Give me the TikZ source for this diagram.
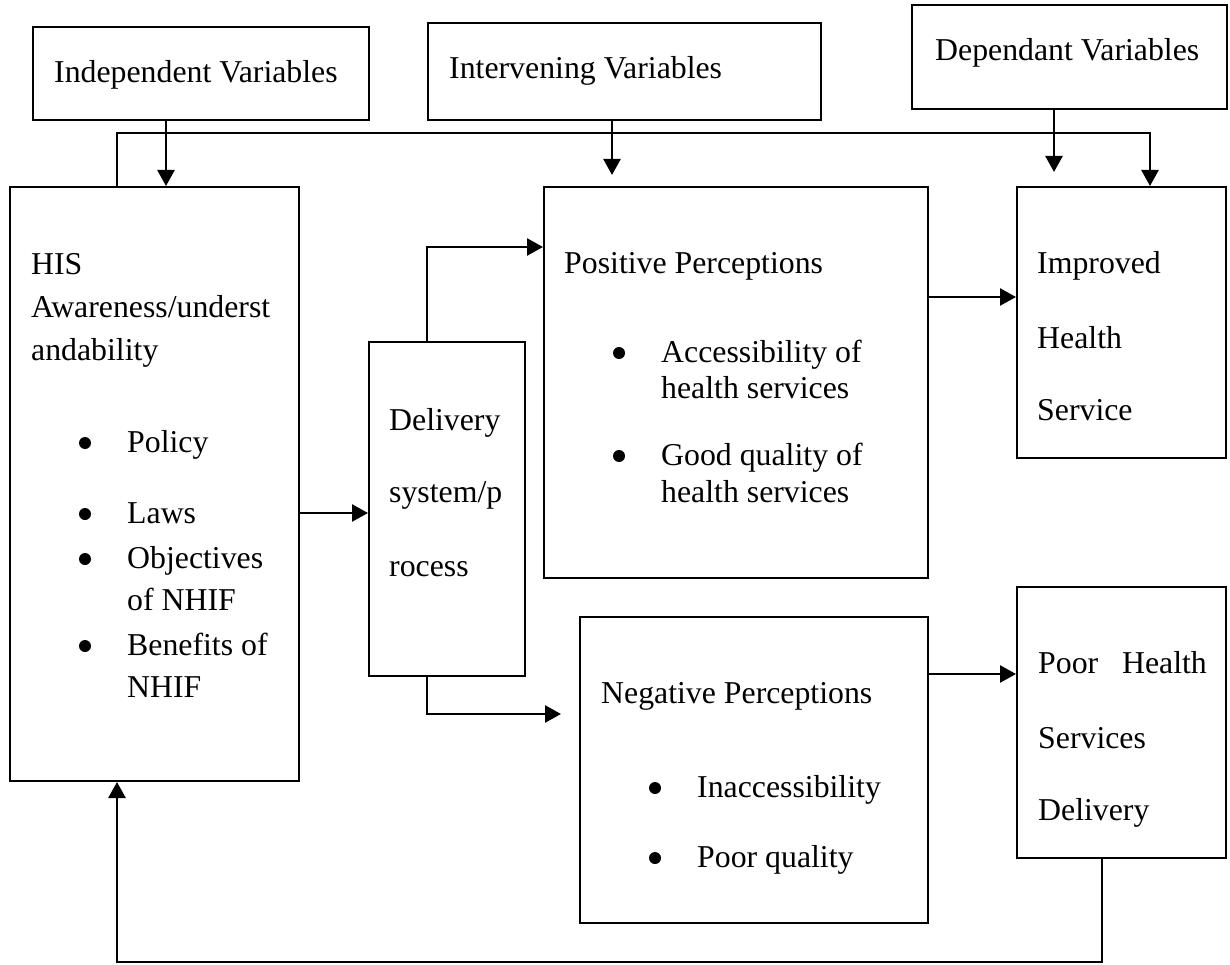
\documentclass[tikz,border=0pt]{standalone}
\usepackage{fontspec}
\setmainfont{Liberation Serif}
\usetikzlibrary{fit,arrows.meta}
\begin{document}
\begin{tikzpicture}[x=1pt,y=-1pt,
  box/.style={draw,line width=2pt,inner sep=0pt,fit={#1}},
  txt/.style={anchor=base west,inner sep=0pt,font=\fontsize{31.8}{40}\selectfont},
  bul/.style={circle,fill,inner sep=0pt,minimum size=12pt},
  arr/.style={line width=2.5pt,-{Triangle[length=16pt,width=17pt]}}]
\useasboundingbox (0,0) rectangle (1230,965);
% boxes
\node[box={(33,27)(369,120)}] (indep) {};
\node[box={(428,23)(821,120)}] (interv) {};
\node[box={(912,5)(1227,109)}] (dep) {};
\node[box={(10,187)(299,781)}] (his) {};
\node[box={(369,342)(525,676)}] (deliv) {};
\node[box={(544,187)(928,578)}] (pos) {};
\node[box={(1017,187)(1226,458)}] (impr) {};
\node[box={(580,617)(928,923)}] (neg) {};
\node[box={(1017,587)(1226,858)}] (poor) {};
% texts
\node[txt] (t1) at (54,83) {Independent Variables};
\node[txt] (t2) at (449,79) {Intervening Variables};
\node[txt] (t3) at (935,61) {Dependant Variables};
\node[txt] (h1) at (31,275) {HIS};
\node[txt] (h2) at (31,317) {Awareness/underst};
\node[txt] (h3) at (31,360) {andability};
\node[bul] (hb1) at (85,443) {};
\node[txt] (h4) at (127,452) {Policy};
\node[bul] (hb2) at (85,514) {};
\node[txt] (h5) at (127,523) {Laws};
\node[bul] (hb3) at (85,559) {};
\node[txt] (h6) at (127,568) {Objectives};
\node[txt] (h7) at (127,610) {of NHIF};
\node[bul] (hb4) at (85,646) {};
\node[txt] (h8) at (127,655) {Benefits of};
\node[txt] (h9) at (127,697) {NHIF};
\node[txt] (d1) at (389,430) {Delivery};
\node[txt] (d2) at (389,502) {system/p};
\node[txt] (d3) at (389,576) {rocess};
\node[txt] (p1) at (564,274) {Positive Perceptions};
\node[bul] (pb1) at (619,353) {};
\node[txt] (p2) at (661,362) {Accessibility of};
\node[txt] (p3) at (661,398) {health services};
\node[bul] (pb2) at (619,456) {};
\node[txt] (p4) at (661,465) {Good quality of};
\node[txt] (p5) at (661,502) {health services};
\node[txt] (i1) at (1037,274) {Improved};
\node[txt] (i2) at (1037,348) {Health};
\node[txt] (i3) at (1037,420) {Service};
\node[txt] (n1) at (601,703) {Negative Perceptions};
\node[bul] (nb1) at (655,788) {};
\node[txt] (n2) at (697,797) {Inaccessibility};
\node[bul] (nb2) at (655,858) {};
\node[txt] (n3) at (697,867) {Poor quality};
\node[txt] (q1) at (1038,673) {Poor};
\node[txt,anchor=base east] (q2) at (1207,673) {Health};
\node[txt] (q3) at (1038,748) {Services};
\node[txt] (q4) at (1038,820) {Delivery};
% free ends
\coordinate (ivend) at (612,175);
\coordinate (dpend) at (1054,172);
\coordinate (ngend) at (561,714);
% connectors
\draw[arr] (166,0 |- indep.south) -- (166,0 |- his.north);
\draw[arr] (ivend |- interv.south) -- (ivend);
\draw[arr] (dpend |- dep.south) -- (dpend);
\draw[arr] (117,0 |- his.north) -- (117,133) -- (1150,133) -- (1150,0 |- impr.north);
\draw[arr] (his.east |- 0,513) -- (deliv.west |- 0,513);
\draw[arr] (427,0 |- deliv.north) -- (427,247) -- (pos.west |- 0,247);
\draw[arr] (427,0 |- deliv.south) -- (ngend -| 427,0) -- (ngend);
\draw[arr] (pos.east |- 0,297) -- (impr.west |- 0,297);
\draw[arr] (neg.east |- 0,674) -- (poor.west |- 0,674);
\draw[arr] (1102,0 |- poor.south) -- (1102,962) -- (117,962) -- (117,0 |- his.south);
\end{tikzpicture}
\end{document}
